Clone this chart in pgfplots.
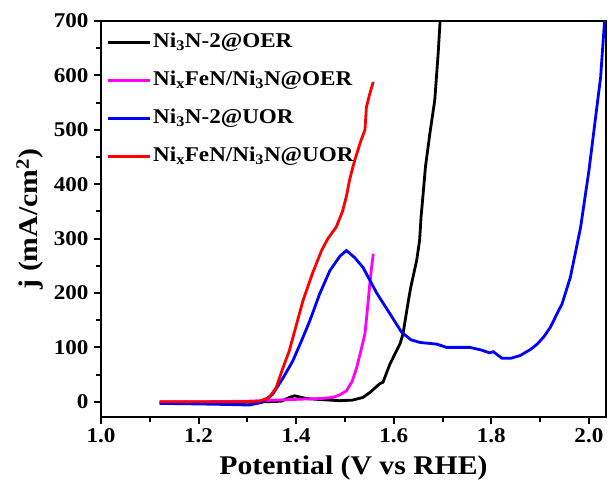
\documentclass[border=0pt]{standalone}
\usepackage{pgfplots}
\pgfplotsset{compat=1.18}
\usepackage{fontspec}
\setmainfont{Liberation Serif}[FakeStretch=1.1]
\definecolor{mag}{RGB}{255,0,255}
\definecolor{myblue}{RGB}{0,0,255}
\definecolor{myred}{RGB}{255,0,0}
\begin{document}
\begin{tikzpicture}
\begin{axis}[
  scale only axis,
  width=505pt, height=396pt,
  xmin=1.0, xmax=2.035, ymin=-28, ymax=700,
  xtick={1.0,1.2,1.4,1.6,1.8,2.0},
  minor xtick={1.1,1.3,1.5,1.7,1.9},
  ytick={0,100,200,300,400,500,600,700},
  minor ytick={50,150,250,350,450,550,650},
  xtick pos=bottom, ytick pos=left,
  tick align=outside,
  major tick length=7pt, minor tick length=5pt,
  every tick/.style={black, line width=2pt},
  axis line style={line width=2.4pt},
  /pgf/number format/assume math mode=true,
  xticklabel style={/pgf/number format/fixed, /pgf/number format/fixed zerofill, /pgf/number format/precision=1, yshift=-1pt},
  yticklabel style={xshift=-2pt},
  tick label style={font=\bfseries\fontsize{21}{23}\selectfont},
  xlabel={Potential (V vs RHE)},
  ylabel={j (mA/cm\textsuperscript{2})},
  label style={font=\bfseries\fontsize{27}{29}\selectfont},
  xlabel style={at={(axis description cs:0.5,0)}, anchor=center, yshift=-51pt},
  ylabel style={at={(axis description cs:0,0.5)}, anchor=center, rotate=0, yshift=71pt},
  legend style={draw=none, fill=none, at={(axis description cs:0,1)}, anchor=north west,
    xshift=2pt, yshift=-8pt,
    font=\bfseries\fontsize{21}{23}\selectfont, row sep=15pt, cells={anchor=west},
    nodes={text height=14pt, text depth=5pt, inner sep=2pt}},
  legend image code/.code={\draw[#1, line width=3pt] (0pt,0pt) -- (42pt,0pt);},
  every axis plot/.append style={line width=2.8pt},
]
\addplot[black] coordinates {
(1.12,-2) (1.2,-2) (1.3,-1) (1.37,1) (1.386,8) (1.397,11) (1.421,6) (1.45,4) (1.489,2) (1.515,3) (1.537,8) (1.551,17) (1.571,33) (1.578,36) (1.592,69) (1.613,107) (1.619,125) (1.63,186) (1.635,211) (1.647,260) (1.653,297) (1.656,340) (1.660,380) (1.665,432) (1.674,493) (1.684,554) (1.691,640) (1.695,700)
};
\addlegendentry{Ni\textsubscript{3}N-2@OER}
\addplot[mag] coordinates {
(1.12,0) (1.2,0) (1.3,1) (1.386,4) (1.45,6) (1.475,8) (1.49,13) (1.503,20) (1.515,38) (1.524,63) (1.533,95) (1.541,125) (1.546,170) (1.551,217) (1.555,250) (1.558,272)
};
\addlegendentry{Ni\textsubscript{x}FeN/Ni\textsubscript{3}N@OER}
\addplot[myblue] coordinates {
(1.12,-3) (1.2,-4) (1.26,-5) (1.304,-6) (1.33,-1) (1.352,14) (1.374,45) (1.393,75) (1.41,110) (1.428,149) (1.448,198) (1.469,241) (1.49,268) (1.503,278) (1.52,265) (1.537,247) (1.565,200) (1.592,162) (1.616,128) (1.635,114) (1.654,109) (1.688,106) (1.708,100) (1.756,100) (1.78,95) (1.796,90) (1.804,92) (1.822,80) (1.84,80) (1.859,85) (1.88,96) (1.894,106) (1.908,120) (1.921,137) (1.938,168) (1.945,180) (1.962,229) (1.983,321) (2.0,425) (2.013,518) (2.024,597) (2.032,700)
};
\addlegendentry{Ni\textsubscript{3}N-2@UOR}
\addplot[myred] coordinates {
(1.12,0) (1.2,0) (1.284,0) (1.325,1) (1.345,8) (1.359,26) (1.372,60) (1.386,94) (1.4,140) (1.414,186) (1.433,235) (1.452,278) (1.465,300) (1.482,321) (1.495,350) (1.503,378) (1.51,410) (1.52,444) (1.532,478) (1.541,500) (1.544,542) (1.552,570) (1.558,588)
};
\addlegendentry{Ni\textsubscript{x}FeN/Ni\textsubscript{3}N@UOR}
\end{axis}
\path[use as bounding box] ([xshift=-101pt,yshift=-69pt]current axis.south west) rectangle ([xshift=2pt,yshift=21pt]current axis.north east);
\end{tikzpicture}
\end{document}
